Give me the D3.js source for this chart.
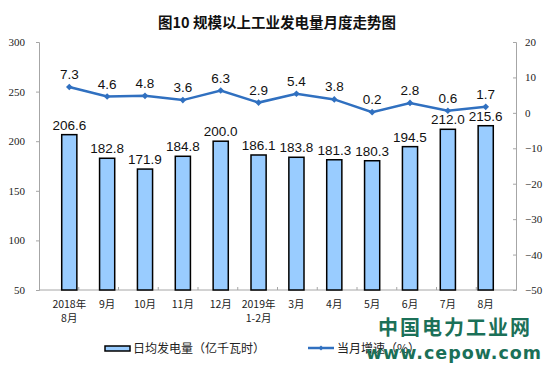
<!DOCTYPE html>
<html><head><meta charset="utf-8">
<script src="https://cdn.jsdelivr.net/npm/d3@7"></script>
<style>html,body{margin:0;padding:0;background:#fff;}</style>
</head><body>
<svg id="c" width="554" height="381"></svg>
<script>
const categories = ["2018年\n8月","9月","10月","11月","12月","2019年\n1-2月","3月","4月","5月","6月","7月","8月"];
const dailyOutput = [206.6,182.8,171.9,184.8,200.0,186.1,183.8,181.3,180.3,194.5,212.0,215.6];
const growth = [7.3,4.6,4.8,3.6,6.3,2.9,5.4,3.8,0.2,2.8,0.6,1.7];
const leftTicks = [50,100,150,200,250,300];
const rightTicks = [-50,-40,-30,-20,-10,0,10,20];
const title = "图10 规模以上工业发电量月度走势图";
const legendBar = "日均发电量（亿千瓦时）";
const legendLine = "当月增速（%）";

const svg = d3.select("#c");
const L = 39, R = 516, T = 42, B = 290;
const x = d3.scaleBand().domain(categories.map((d,i)=>i)).range([L,R]).padding(0.6);
const yL = d3.scaleLinear().domain([50,300]).range([B,T]);
const yR = d3.scaleLinear().domain([-50,20]).range([B,T]);
const axisColor = "#a6a6a6";
const tickFont = "'Liberation Serif','DejaVu Serif',serif";
const cjk = "'Noto Sans CJK SC','Noto Sans',sans-serif";
const num = "'Liberation Sans',Arial,sans-serif";

svg.append("text").attr("x",277).attr("y",28).attr("text-anchor","middle")
  .attr("font-family",cjk).attr("font-size",14.5).attr("font-weight","bold").attr("fill","#111").text(title);

// left axis
const gl = svg.append("g").attr("transform",`translate(${L},0)`)
  .call(d3.axisLeft(yL).tickValues(leftTicks).tickSize(3).tickPadding(11));
gl.select(".domain").attr("stroke",axisColor);
gl.selectAll(".tick line").attr("stroke",axisColor);
gl.selectAll("text").attr("font-family",tickFont).attr("font-size",11).attr("fill","#222");

// right axis
const gr = svg.append("g").attr("transform",`translate(${R},0)`)
  .call(d3.axisRight(yR).tickValues(rightTicks).tickSize(-3).tickPadding(9));
gr.select(".domain").attr("stroke",axisColor);
gr.selectAll(".tick line").attr("stroke",axisColor);
gr.selectAll("text").attr("font-family",tickFont).attr("font-size",11).attr("fill","#222");

// bottom axis
const xb = d3.scaleLinear().domain([0,categories.length]).range([L,R]);
svg.append("line").attr("x1",L).attr("x2",R).attr("y1",B).attr("y2",B).attr("stroke",axisColor);
svg.selectAll(".xt").data(d3.range(1,categories.length)).join("line")
  .attr("x1",d=>xb(d)).attr("x2",d=>xb(d)).attr("y1",B).attr("y2",B-3).attr("stroke",axisColor);

// x labels
const xl = svg.selectAll(".xl").data(categories).join("text")
  .attr("x",(d,i)=>x(i)+x.bandwidth()/2).attr("y",308).attr("text-anchor","middle")
  .attr("font-family",cjk).attr("font-size",10.5).attr("fill","#222");
xl.each(function(d){
  const parts = d.split("\n");
  const t = d3.select(this);
  parts.forEach((p,k)=>t.append("tspan").attr("x",t.attr("x")).attr("dy",k?14:0).text(p));
});

// bars
svg.selectAll(".bar").data(dailyOutput).join("rect")
  .attr("x",(d,i)=>x(i)).attr("width",x.bandwidth())
  .attr("y",d=>yL(d)).attr("height",d=>B-yL(d))
  .attr("fill","#99ccff").attr("stroke","#000").attr("stroke-width",1.5);

svg.selectAll(".bl").data(dailyOutput).join("text")
  .attr("x",(d,i)=>x(i)+x.bandwidth()/2).attr("y",d=>yL(d)-5).attr("text-anchor","middle")
  .attr("font-family",num).attr("font-size",13.5).attr("fill","#111").text(d=>d.toFixed(1));

// line
const cx = i=>x(i)+x.bandwidth()/2;
svg.append("path").datum(growth)
  .attr("d",d3.line().x((d,i)=>cx(i)).y(d=>yR(d)))
  .attr("fill","none").attr("stroke","#3070c0").attr("stroke-width",2.5);
svg.selectAll(".pt").data(growth).join("path")
  .attr("d",d3.symbol(d3.symbolDiamond2,28))
  .attr("transform",(d,i)=>`translate(${cx(i)},${yR(d)})`).attr("fill","#3070c0");
svg.selectAll(".ll").data(growth).join("text")
  .attr("x",(d,i)=>cx(i)).attr("y",d=>yR(d)-8).attr("text-anchor","middle")
  .attr("font-family",num).attr("font-size",13.5).attr("fill","#111").text(d=>d.toFixed(1));

// legend
svg.append("rect").attr("x",105).attr("y",346).attr("width",25).attr("height",5)
  .attr("fill","#99ccff").attr("stroke","#000").attr("stroke-width",1.5);
svg.append("text").attr("x",133).attr("y",353).attr("font-family",cjk).attr("font-size",12).attr("fill","#222").text(legendBar);
svg.append("line").attr("x1",308).attr("x2",334).attr("y1",348).attr("y2",348).attr("stroke","#3070c0").attr("stroke-width",2.5);
svg.append("path").attr("d",d3.symbol(d3.symbolDiamond2,16)).attr("transform","translate(321,348)").attr("fill","#3070c0");
svg.append("text").attr("x",337).attr("y",353).attr("font-family",cjk).attr("font-size",12).attr("fill","#222").text(legendLine);

// watermark
svg.append("text").attr("x",455).attr("y",335).attr("text-anchor","middle")
  .attr("font-family",cjk).attr("font-size",20).attr("font-weight","bold").attr("fill","#1b7058")
  .attr("letter-spacing",2).text("中国电力工业网");
svg.append("text").attr("x",454).attr("y",359).attr("text-anchor","middle")
  .attr("font-family","'DejaVu Sans',sans-serif").attr("font-size",17.5).attr("font-weight","bold").attr("fill","#1b7058")
  .attr("letter-spacing",1).text("www.cepow.com");
</script>
</body></html>
